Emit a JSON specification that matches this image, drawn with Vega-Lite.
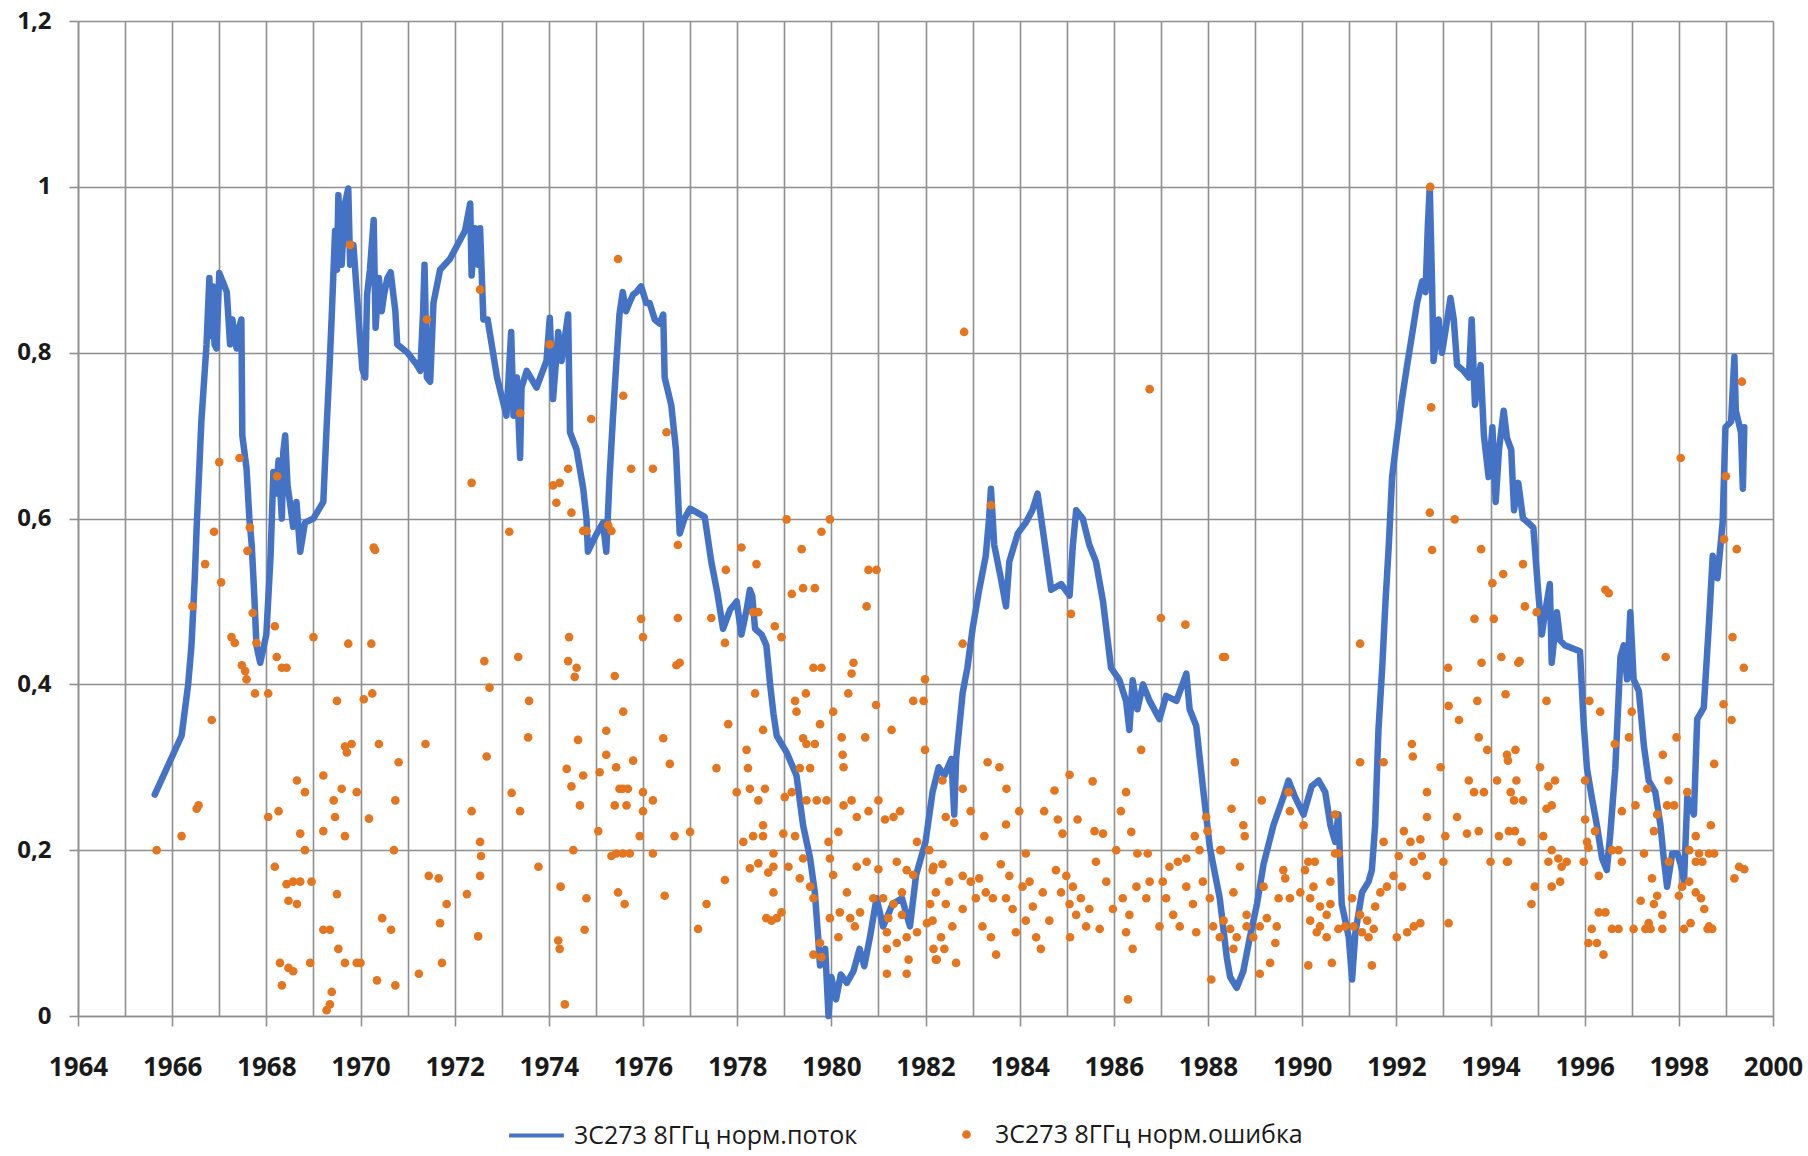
{
"$schema": "https://vega.github.io/schema/vega-lite/v6.json",
"width": 1695, "height": 995,
"autosize": {"type": "none"},
"padding": {"left": 78, "top": 21, "right": 35, "bottom": 140},
"background": "white",
"config": {"view": {"stroke": null}},
"datasets": {
"flux": [
{"t":1965.63,"v":0.267},{"t":1966.2,"v":0.338},{"t":1966.34,"v":0.4},{"t":1966.41,"v":0.447},{"t":1966.48,"v":0.528},{"t":1966.52,"v":0.589},{"t":1966.62,"v":0.717},{"t":1966.73,"v":0.81},{"t":1966.79,"v":0.89},{"t":1966.83,"v":0.82},{"t":1966.86,"v":0.88},{"t":1966.9,"v":0.81},{"t":1966.94,"v":0.805},{"t":1967.0,"v":0.896},{"t":1967.08,"v":0.885},{"t":1967.16,"v":0.873},{"t":1967.23,"v":0.81},{"t":1967.28,"v":0.84},{"t":1967.32,"v":0.82},{"t":1967.37,"v":0.805},{"t":1967.42,"v":0.83},{"t":1967.47,"v":0.84},{"t":1967.49,"v":0.7},{"t":1967.58,"v":0.66},{"t":1967.64,"v":0.6},{"t":1967.69,"v":0.568},{"t":1967.75,"v":0.5},{"t":1967.79,"v":0.447},{"t":1967.87,"v":0.426},{"t":1968.0,"v":0.46},{"t":1968.09,"v":0.555},{"t":1968.15,"v":0.656},{"t":1968.2,"v":0.63},{"t":1968.26,"v":0.67},{"t":1968.33,"v":0.6},{"t":1968.36,"v":0.68},{"t":1968.4,"v":0.7},{"t":1968.45,"v":0.64},{"t":1968.5,"v":0.62},{"t":1968.57,"v":0.59},{"t":1968.64,"v":0.62},{"t":1968.72,"v":0.56},{"t":1968.82,"v":0.595},{"t":1969.0,"v":0.6},{"t":1969.21,"v":0.62},{"t":1969.28,"v":0.71},{"t":1969.34,"v":0.78},{"t":1969.39,"v":0.846},{"t":1969.46,"v":0.947},{"t":1969.5,"v":0.9},{"t":1969.53,"v":0.99},{"t":1969.6,"v":0.906},{"t":1969.67,"v":0.98},{"t":1969.74,"v":0.998},{"t":1969.78,"v":0.906},{"t":1969.85,"v":0.93},{"t":1969.92,"v":0.873},{"t":1970.0,"v":0.81},{"t":1970.04,"v":0.78},{"t":1970.1,"v":0.77},{"t":1970.14,"v":0.87},{"t":1970.2,"v":0.9},{"t":1970.28,"v":0.96},{"t":1970.32,"v":0.83},{"t":1970.39,"v":0.89},{"t":1970.45,"v":0.85},{"t":1970.5,"v":0.87},{"t":1970.57,"v":0.89},{"t":1970.64,"v":0.897},{"t":1970.74,"v":0.85},{"t":1970.78,"v":0.81},{"t":1971.0,"v":0.8},{"t":1971.2,"v":0.785},{"t":1971.27,"v":0.778},{"t":1971.33,"v":0.85},{"t":1971.36,"v":0.906},{"t":1971.41,"v":0.77},{"t":1971.48,"v":0.765},{"t":1971.55,"v":0.86},{"t":1971.69,"v":0.9},{"t":1971.9,"v":0.913},{"t":1972.22,"v":0.947},{"t":1972.33,"v":0.98},{"t":1972.36,"v":0.893},{"t":1972.43,"v":0.95},{"t":1972.5,"v":0.906},{"t":1972.54,"v":0.95},{"t":1972.61,"v":0.84},{"t":1972.7,"v":0.84},{"t":1972.9,"v":0.77},{"t":1973.1,"v":0.724},{"t":1973.2,"v":0.825},{"t":1973.25,"v":0.724},{"t":1973.32,"v":0.77},{"t":1973.39,"v":0.673},{"t":1973.42,"v":0.758},{"t":1973.53,"v":0.778},{"t":1973.74,"v":0.758},{"t":1973.95,"v":0.79},{"t":1974.02,"v":0.842},{"t":1974.09,"v":0.744},{"t":1974.2,"v":0.825},{"t":1974.27,"v":0.79},{"t":1974.41,"v":0.846},{"t":1974.45,"v":0.704},{"t":1974.59,"v":0.683},{"t":1974.73,"v":0.636},{"t":1974.8,"v":0.6},{"t":1974.83,"v":0.56},{"t":1975.0,"v":0.58},{"t":1975.15,"v":0.595},{"t":1975.22,"v":0.56},{"t":1975.29,"v":0.65},{"t":1975.36,"v":0.72},{"t":1975.43,"v":0.785},{"t":1975.5,"v":0.846},{"t":1975.57,"v":0.873},{"t":1975.64,"v":0.85},{"t":1975.71,"v":0.86},{"t":1975.79,"v":0.87},{"t":1975.86,"v":0.873},{"t":1975.96,"v":0.88},{"t":1976.07,"v":0.86},{"t":1976.14,"v":0.86},{"t":1976.25,"v":0.84},{"t":1976.35,"v":0.835},{"t":1976.43,"v":0.846},{"t":1976.46,"v":0.77},{"t":1976.6,"v":0.737},{"t":1976.7,"v":0.683},{"t":1976.78,"v":0.582},{"t":1976.88,"v":0.6},{"t":1977.0,"v":0.612},{"t":1977.31,"v":0.602},{"t":1977.45,"v":0.548},{"t":1977.58,"v":0.51},{"t":1977.7,"v":0.467},{"t":1977.85,"v":0.49},{"t":1977.99,"v":0.5},{"t":1978.09,"v":0.46},{"t":1978.2,"v":0.49},{"t":1978.27,"v":0.514},{"t":1978.32,"v":0.507},{"t":1978.38,"v":0.467},{"t":1978.52,"v":0.46},{"t":1978.62,"v":0.447},{"t":1978.7,"v":0.4},{"t":1978.77,"v":0.365},{"t":1978.84,"v":0.338},{"t":1979.05,"v":0.318},{"t":1979.26,"v":0.29},{"t":1979.4,"v":0.23},{"t":1979.55,"v":0.19},{"t":1979.65,"v":0.149},{"t":1979.72,"v":0.095},{"t":1979.76,"v":0.061},{"t":1979.87,"v":0.081},{"t":1979.94,"v":0.0},{"t":1980.0,"v":0.047},{"t":1980.1,"v":0.02},{"t":1980.2,"v":0.05},{"t":1980.33,"v":0.04},{"t":1980.47,"v":0.054},{"t":1980.6,"v":0.081},{"t":1980.7,"v":0.06},{"t":1980.82,"v":0.095},{"t":1980.96,"v":0.142},{"t":1981.1,"v":0.108},{"t":1981.3,"v":0.135},{"t":1981.5,"v":0.142},{"t":1981.67,"v":0.108},{"t":1981.8,"v":0.17},{"t":1982.0,"v":0.21},{"t":1982.15,"v":0.27},{"t":1982.28,"v":0.3},{"t":1982.4,"v":0.29},{"t":1982.55,"v":0.31},{"t":1982.61,"v":0.243},{"t":1982.65,"v":0.31},{"t":1982.72,"v":0.35},{"t":1982.79,"v":0.39},{"t":1982.89,"v":0.42},{"t":1983.0,"v":0.467},{"t":1983.14,"v":0.514},{"t":1983.28,"v":0.555},{"t":1983.35,"v":0.6},{"t":1983.39,"v":0.636},{"t":1983.46,"v":0.568},{"t":1983.6,"v":0.528},{"t":1983.71,"v":0.494},{"t":1983.78,"v":0.548},{"t":1983.96,"v":0.582},{"t":1984.13,"v":0.595},{"t":1984.27,"v":0.61},{"t":1984.38,"v":0.63},{"t":1984.52,"v":0.575},{"t":1984.67,"v":0.514},{"t":1984.88,"v":0.521},{"t":1985.06,"v":0.507},{"t":1985.13,"v":0.568},{"t":1985.2,"v":0.61},{"t":1985.34,"v":0.6},{"t":1985.48,"v":0.568},{"t":1985.62,"v":0.548},{"t":1985.77,"v":0.5},{"t":1985.94,"v":0.42},{"t":1986.12,"v":0.405},{"t":1986.26,"v":0.38},{"t":1986.33,"v":0.345},{"t":1986.4,"v":0.405},{"t":1986.5,"v":0.37},{"t":1986.62,"v":0.4},{"t":1986.76,"v":0.38},{"t":1986.97,"v":0.358},{"t":1987.11,"v":0.386},{"t":1987.33,"v":0.38},{"t":1987.54,"v":0.413},{"t":1987.61,"v":0.37},{"t":1987.75,"v":0.35},{"t":1987.89,"v":0.277},{"t":1988.04,"v":0.203},{"t":1988.25,"v":0.142},{"t":1988.4,"v":0.07},{"t":1988.47,"v":0.047},{"t":1988.61,"v":0.034},{"t":1988.75,"v":0.054},{"t":1988.89,"v":0.095},{"t":1989.04,"v":0.135},{"t":1989.18,"v":0.183},{"t":1989.39,"v":0.23},{"t":1989.6,"v":0.264},{"t":1989.71,"v":0.284},{"t":1989.85,"v":0.264},{"t":1990.03,"v":0.243},{"t":1990.2,"v":0.277},{"t":1990.35,"v":0.284},{"t":1990.49,"v":0.27},{"t":1990.6,"v":0.23},{"t":1990.7,"v":0.21},{"t":1990.77,"v":0.243},{"t":1990.84,"v":0.135},{"t":1990.99,"v":0.095},{"t":1991.06,"v":0.044},{"t":1991.13,"v":0.1},{"t":1991.27,"v":0.149},{"t":1991.41,"v":0.162},{"t":1991.48,"v":0.176},{"t":1991.55,"v":0.23},{"t":1991.62,"v":0.345},{"t":1991.7,"v":0.42},{"t":1991.77,"v":0.5},{"t":1991.84,"v":0.568},{"t":1991.91,"v":0.65},{"t":1992.01,"v":0.697},{"t":1992.12,"v":0.744},{"t":1992.23,"v":0.785},{"t":1992.33,"v":0.82},{"t":1992.44,"v":0.86},{"t":1992.55,"v":0.886},{"t":1992.62,"v":0.873},{"t":1992.67,"v":0.954},{"t":1992.71,"v":1.0},{"t":1992.76,"v":0.88},{"t":1992.79,"v":0.79},{"t":1992.9,"v":0.84},{"t":1992.97,"v":0.8},{"t":1993.04,"v":0.825},{"t":1993.15,"v":0.866},{"t":1993.22,"v":0.84},{"t":1993.29,"v":0.785},{"t":1993.43,"v":0.778},{"t":1993.54,"v":0.77},{"t":1993.6,"v":0.84},{"t":1993.67,"v":0.737},{"t":1993.79,"v":0.785},{"t":1993.86,"v":0.7},{"t":1993.96,"v":0.65},{"t":1994.04,"v":0.71},{"t":1994.11,"v":0.62},{"t":1994.18,"v":0.683},{"t":1994.28,"v":0.73},{"t":1994.35,"v":0.697},{"t":1994.44,"v":0.683},{"t":1994.5,"v":0.61},{"t":1994.59,"v":0.643},{"t":1994.69,"v":0.6},{"t":1994.8,"v":0.595},{"t":1994.91,"v":0.589},{"t":1995.01,"v":0.514},{"t":1995.09,"v":0.46},{"t":1995.16,"v":0.487},{"t":1995.26,"v":0.521},{"t":1995.3,"v":0.426},{"t":1995.41,"v":0.487},{"t":1995.48,"v":0.453},{"t":1995.58,"v":0.447},{"t":1995.9,"v":0.44},{"t":1995.98,"v":0.352},{"t":1996.05,"v":0.298},{"t":1996.15,"v":0.264},{"t":1996.26,"v":0.23},{"t":1996.37,"v":0.19},{"t":1996.47,"v":0.176},{"t":1996.54,"v":0.217},{"t":1996.65,"v":0.298},{"t":1996.76,"v":0.433},{"t":1996.83,"v":0.447},{"t":1996.9,"v":0.406},{"t":1996.97,"v":0.487},{"t":1997.04,"v":0.406},{"t":1997.15,"v":0.392},{"t":1997.26,"v":0.325},{"t":1997.36,"v":0.284},{"t":1997.5,"v":0.27},{"t":1997.61,"v":0.23},{"t":1997.68,"v":0.19},{"t":1997.75,"v":0.156},{"t":1997.86,"v":0.196},{"t":1997.97,"v":0.196},{"t":1998.04,"v":0.183},{"t":1998.11,"v":0.162},{"t":1998.18,"v":0.264},{"t":1998.32,"v":0.243},{"t":1998.39,"v":0.358},{"t":1998.53,"v":0.372},{"t":1998.64,"v":0.474},{"t":1998.72,"v":0.555},{"t":1998.82,"v":0.528},{"t":1998.93,"v":0.595},{"t":1998.99,"v":0.71},{"t":1999.11,"v":0.717},{"t":1999.18,"v":0.795},{"t":1999.21,"v":0.73},{"t":1999.32,"v":0.704},{"t":1999.36,"v":0.636},{"t":1999.39,"v":0.71}
],
"err": [
{"t":1965.67,"e":0.2},{"t":1966.2,"e":0.217},{"t":1966.52,"e":0.25},{"t":1966.56,"e":0.254},{"t":1966.43,"e":0.494},{"t":1966.7,"e":0.545},{"t":1966.89,"e":0.584},{"t":1967.04,"e":0.523},{"t":1967.0,"e":0.668},{"t":1967.43,"e":0.673},{"t":1966.84,"e":0.357},{"t":1967.26,"e":0.457},{"t":1967.33,"e":0.45},{"t":1967.48,"e":0.423},{"t":1967.55,"e":0.416},{"t":1967.58,"e":0.406},{"t":1967.65,"e":0.589},{"t":1967.6,"e":0.561},{"t":1967.71,"e":0.486},{"t":1967.79,"e":0.45},{"t":1967.76,"e":0.389},{"t":1968.04,"e":0.389},{"t":1968.18,"e":0.47},{"t":1968.23,"e":0.651},{"t":1968.22,"e":0.433},{"t":1968.33,"e":0.42},{"t":1968.43,"e":0.42},{"t":1969.0,"e":0.457},{"t":1969.74,"e":0.449},{"t":1969.78,"e":0.93},{"t":1969.5,"e":0.38},{"t":1969.67,"e":0.325},{"t":1969.71,"e":0.318},{"t":1969.81,"e":0.328},{"t":1968.04,"e":0.24},{"t":1968.26,"e":0.247},{"t":1968.65,"e":0.284},{"t":1968.82,"e":0.27},{"t":1968.72,"e":0.22},{"t":1968.82,"e":0.2},{"t":1969.21,"e":0.29},{"t":1969.43,"e":0.26},{"t":1969.6,"e":0.274},{"t":1969.46,"e":0.24},{"t":1969.21,"e":0.223},{"t":1969.67,"e":0.217},{"t":1969.92,"e":0.27},{"t":1968.18,"e":0.18},{"t":1968.43,"e":0.159},{"t":1968.57,"e":0.162},{"t":1968.72,"e":0.162},{"t":1968.96,"e":0.162},{"t":1968.47,"e":0.139},{"t":1968.65,"e":0.135},{"t":1969.5,"e":0.147},{"t":1969.21,"e":0.104},{"t":1969.35,"e":0.104},{"t":1969.53,"e":0.081},{"t":1969.67,"e":0.064},{"t":1969.92,"e":0.064},{"t":1968.93,"e":0.064},{"t":1968.29,"e":0.064},{"t":1968.47,"e":0.058},{"t":1968.57,"e":0.054},{"t":1968.33,"e":0.037},{"t":1969.39,"e":0.029},{"t":1969.28,"e":0.007},{"t":1969.35,"e":0.014},
{"t":1971.41,"e":0.84},{"t":1972.54,"e":0.876},{"t":1974.02,"e":0.81},{"t":1973.39,"e":0.727},{"t":1975.47,"e":0.913},{"t":1975.58,"e":0.748},{"t":1974.9,"e":0.72},{"t":1972.36,"e":0.643},{"t":1974.09,"e":0.64},{"t":1974.23,"e":0.643},{"t":1974.16,"e":0.619},{"t":1974.41,"e":0.66},{"t":1974.48,"e":0.607},{"t":1974.73,"e":0.585},{"t":1974.8,"e":0.585},{"t":1975.26,"e":0.592},{"t":1975.33,"e":0.585},{"t":1975.75,"e":0.66},{"t":1973.16,"e":0.584},{"t":1970.28,"e":0.565},{"t":1970.31,"e":0.562},{"t":1970.23,"e":0.449},{"t":1970.07,"e":0.382},{"t":1970.25,"e":0.389},{"t":1970.39,"e":0.328},{"t":1970.18,"e":0.238},{"t":1970.81,"e":0.306},{"t":1970.74,"e":0.26},{"t":1970.71,"e":0.2},{"t":1971.38,"e":0.328},{"t":1970.46,"e":0.118},{"t":1970.65,"e":0.104},{"t":1970.0,"e":0.064},{"t":1970.35,"e":0.043},{"t":1970.74,"e":0.037},{"t":1971.24,"e":0.051},{"t":1971.45,"e":0.169},{"t":1971.66,"e":0.166},{"t":1971.69,"e":0.112},{"t":1971.83,"e":0.135},{"t":1971.73,"e":0.064},{"t":1972.26,"e":0.147},{"t":1972.36,"e":0.247},{"t":1972.54,"e":0.21},{"t":1972.56,"e":0.193},{"t":1972.54,"e":0.169},{"t":1972.5,"e":0.096},{"t":1972.63,"e":0.428},{"t":1972.74,"e":0.396},{"t":1972.68,"e":0.313},{"t":1973.35,"e":0.433},{"t":1973.58,"e":0.38},{"t":1973.56,"e":0.336},{"t":1973.21,"e":0.269},{"t":1973.39,"e":0.247},{"t":1973.78,"e":0.18},{"t":1974.25,"e":0.156},{"t":1974.2,"e":0.091},{"t":1974.23,"e":0.081},{"t":1974.34,"e":0.014},{"t":1974.43,"e":0.457},{"t":1974.41,"e":0.428},{"t":1974.59,"e":0.42},{"t":1974.55,"e":0.409},{"t":1974.62,"e":0.333},{"t":1974.38,"e":0.298},{"t":1974.48,"e":0.277},{"t":1974.73,"e":0.29},{"t":1974.66,"e":0.254},{"t":1974.52,"e":0.2},{"t":1974.8,"e":0.142},{"t":1974.76,"e":0.104},{"t":1975.05,"e":0.223},{"t":1975.08,"e":0.294},{"t":1975.22,"e":0.315},{"t":1975.22,"e":0.344},{"t":1975.4,"e":0.41},{"t":1975.58,"e":0.367},{"t":1975.43,"e":0.3},{"t":1975.5,"e":0.274},{"t":1975.57,"e":0.274},{"t":1975.68,"e":0.274},{"t":1975.4,"e":0.254},{"t":1975.65,"e":0.254},{"t":1975.79,"e":0.308},{"t":1975.96,"e":0.479},{"t":1976.0,"e":0.457},{"t":1976.0,"e":0.27},{"t":1976.0,"e":0.247},{"t":1975.93,"e":0.217},{"t":1975.33,"e":0.193},{"t":1975.43,"e":0.196},{"t":1975.57,"e":0.196},{"t":1975.72,"e":0.196},{"t":1975.47,"e":0.149},{"t":1975.61,"e":0.135},
{"t":1976.5,"e":0.704},{"t":1976.21,"e":0.66},{"t":1976.74,"e":0.568},{"t":1976.74,"e":0.48},{"t":1976.71,"e":0.423},{"t":1976.78,"e":0.426},{"t":1978.09,"e":0.565},{"t":1978.41,"e":0.545},{"t":1977.76,"e":0.538},{"t":1977.45,"e":0.48},{"t":1977.74,"e":0.45},{"t":1978.34,"e":0.487},{"t":1978.45,"e":0.487},{"t":1978.8,"e":0.47},{"t":1978.94,"e":0.457},{"t":1979.05,"e":0.599},{"t":1979.37,"e":0.563},{"t":1979.16,"e":0.509},{"t":1979.4,"e":0.516},{"t":1979.65,"e":0.516},{"t":1979.79,"e":0.584},{"t":1979.97,"e":0.599},{"t":1979.62,"e":0.42},{"t":1979.79,"e":0.42},{"t":1980.47,"e":0.426},{"t":1980.43,"e":0.413},{"t":1980.36,"e":0.389},{"t":1980.79,"e":0.538},{"t":1980.96,"e":0.538},{"t":1980.75,"e":0.494},{"t":1978.38,"e":0.389},{"t":1979.23,"e":0.38},{"t":1979.26,"e":0.367},{"t":1979.46,"e":0.389},{"t":1979.76,"e":0.352},{"t":1980.04,"e":0.367},{"t":1980.22,"e":0.336},{"t":1980.24,"e":0.315},{"t":1980.26,"e":0.3},{"t":1980.72,"e":0.336},{"t":1980.95,"e":0.375},{"t":1981.28,"e":0.345},{"t":1981.74,"e":0.38},{"t":1981.96,"e":0.38},{"t":1981.99,"e":0.406},{"t":1981.99,"e":0.321},{"t":1978.55,"e":0.345},{"t":1978.2,"e":0.321},{"t":1978.23,"e":0.299},{"t":1979.4,"e":0.335},{"t":1979.47,"e":0.328},{"t":1979.65,"e":0.328},{"t":1979.33,"e":0.299},{"t":1979.55,"e":0.299},{"t":1977.81,"e":0.352},{"t":1976.43,"e":0.335},{"t":1976.57,"e":0.304},{"t":1977.56,"e":0.299},{"t":1976.21,"e":0.26},{"t":1976.21,"e":0.196},{"t":1976.67,"e":0.217},{"t":1977.0,"e":0.222},{"t":1976.46,"e":0.145},{"t":1977.35,"e":0.135},{"t":1977.17,"e":0.105},{"t":1977.74,"e":0.164},{"t":1977.99,"e":0.27},{"t":1978.27,"e":0.274},{"t":1978.45,"e":0.26},{"t":1978.59,"e":0.274},{"t":1978.55,"e":0.23},{"t":1979.01,"e":0.264},{"t":1979.16,"e":0.27},{"t":1979.47,"e":0.26},{"t":1979.69,"e":0.26},{"t":1979.9,"e":0.26},{"t":1980.26,"e":0.254},{"t":1980.43,"e":0.26},{"t":1980.54,"e":0.24},{"t":1980.79,"e":0.247},{"t":1981.0,"e":0.26},{"t":1981.14,"e":0.237},{"t":1981.32,"e":0.24},{"t":1981.46,"e":0.247},{"t":1978.13,"e":0.21},{"t":1978.34,"e":0.217},{"t":1978.55,"e":0.217},{"t":1978.98,"e":0.22},{"t":1979.23,"e":0.217},{"t":1979.4,"e":0.19},{"t":1978.77,"e":0.196},{"t":1978.27,"e":0.178},{"t":1978.45,"e":0.184},{"t":1978.66,"e":0.173},{"t":1978.77,"e":0.18},{"t":1979.09,"e":0.18},{"t":1979.33,"e":0.166},{"t":1979.55,"e":0.156},{"t":1979.62,"e":0.142},{"t":1979.94,"e":0.21},{"t":1979.97,"e":0.19},{"t":1980.15,"e":0.222},{"t":1980.04,"e":0.17},{"t":1980.33,"e":0.149},{"t":1980.54,"e":0.18},{"t":1980.75,"e":0.186},{"t":1981.0,"e":0.177},{"t":1981.39,"e":0.186},{"t":1981.6,"e":0.176},{"t":1981.74,"e":0.17},{"t":1981.82,"e":0.21},{"t":1982.17,"e":0.18},{"t":1978.77,"e":0.149},{"t":1978.62,"e":0.118},{"t":1978.73,"e":0.115},{"t":1978.94,"e":0.125},{"t":1978.84,"e":0.118},{"t":1979.97,"e":0.118},{"t":1980.18,"e":0.125},{"t":1980.4,"e":0.118},{"t":1980.61,"e":0.125},{"t":1980.5,"e":0.108},{"t":1980.15,"e":0.095},{"t":1979.76,"e":0.088},{"t":1979.62,"e":0.074},{"t":1979.79,"e":0.071},{"t":1980.89,"e":0.142},{"t":1981.1,"e":0.142},{"t":1981.32,"e":0.135},{"t":1981.5,"e":0.149},{"t":1981.21,"e":0.118},{"t":1981.5,"e":0.122},{"t":1981.18,"e":0.101},{"t":1981.39,"e":0.088},{"t":1981.18,"e":0.081},{"t":1981.6,"e":0.095},{"t":1981.64,"e":0.068},{"t":1981.18,"e":0.051},{"t":1981.6,"e":0.051},{"t":1981.82,"e":0.101},{"t":1982.03,"e":0.112},{"t":1982.1,"e":0.135},{"t":1982.17,"e":0.081},{"t":1982.24,"e":0.068},
{"t":1982.82,"e":0.825},{"t":1986.76,"e":0.756},{"t":1983.39,"e":0.616},{"t":1985.09,"e":0.485},{"t":1987.0,"e":0.48},{"t":1987.52,"e":0.472},{"t":1988.32,"e":0.433},{"t":1982.79,"e":0.449},{"t":1986.58,"e":0.321},{"t":1982.36,"e":0.284},{"t":1982.43,"e":0.24},{"t":1982.61,"e":0.233},{"t":1982.79,"e":0.274},{"t":1982.96,"e":0.247},{"t":1982.08,"e":0.2},{"t":1983.32,"e":0.306},{"t":1983.57,"e":0.3},{"t":1983.72,"e":0.274},{"t":1983.71,"e":0.231},{"t":1983.25,"e":0.217},{"t":1983.99,"e":0.247},{"t":1984.13,"e":0.196},{"t":1984.52,"e":0.247},{"t":1984.74,"e":0.272},{"t":1984.81,"e":0.237},{"t":1984.91,"e":0.22},{"t":1985.06,"e":0.291},{"t":1985.23,"e":0.237},{"t":1985.55,"e":0.283},{"t":1985.59,"e":0.223},{"t":1985.77,"e":0.22},{"t":1985.62,"e":0.186},{"t":1986.05,"e":0.2},{"t":1986.15,"e":0.247},{"t":1986.26,"e":0.27},{"t":1986.37,"e":0.222},{"t":1986.5,"e":0.196},{"t":1986.72,"e":0.196},{"t":1987.18,"e":0.18},{"t":1987.36,"e":0.186},{"t":1987.54,"e":0.19},{"t":1987.72,"e":0.217},{"t":1987.82,"e":0.2},{"t":1987.96,"e":0.24},{"t":1987.99,"e":0.223},{"t":1988.28,"e":0.2},{"t":1988.07,"e":0.044},{"t":1986.3,"e":0.02},
{"t":1982.15,"e":0.176},{"t":1982.36,"e":0.183},{"t":1982.5,"e":0.162},{"t":1982.22,"e":0.149},{"t":1982.43,"e":0.135},{"t":1982.15,"e":0.115},{"t":1982.33,"e":0.095},{"t":1982.57,"e":0.108},{"t":1982.4,"e":0.081},{"t":1982.65,"e":0.064},{"t":1982.22,"e":0.068},{"t":1982.79,"e":0.129},{"t":1982.96,"e":0.162},{"t":1983.14,"e":0.166},{"t":1983.07,"e":0.142},{"t":1983.28,"e":0.149},{"t":1983.43,"e":0.142},{"t":1983.21,"e":0.108},{"t":1983.39,"e":0.095},{"t":1983.5,"e":0.074},{"t":1983.6,"e":0.183},{"t":1983.71,"e":0.142},{"t":1983.85,"e":0.129},{"t":1983.92,"e":0.101},{"t":1984.06,"e":0.156},{"t":1984.21,"e":0.162},{"t":1984.28,"e":0.132},{"t":1984.13,"e":0.115},{"t":1984.35,"e":0.095},{"t":1984.45,"e":0.081},{"t":1984.49,"e":0.149},{"t":1984.63,"e":0.115},{"t":1984.77,"e":0.176},{"t":1984.88,"e":0.149},{"t":1984.99,"e":0.169},{"t":1985.06,"e":0.135},{"t":1985.13,"e":0.156},{"t":1985.2,"e":0.122},{"t":1985.07,"e":0.095},{"t":1985.3,"e":0.142},{"t":1985.41,"e":0.108},{"t":1985.48,"e":0.129},{"t":1985.7,"e":0.105},{"t":1985.84,"e":0.162},{"t":1986.19,"e":0.142},{"t":1986.33,"e":0.122},{"t":1986.26,"e":0.101},{"t":1986.4,"e":0.081},{"t":1986.48,"e":0.156},{"t":1986.69,"e":0.142},{"t":1986.76,"e":0.162},{"t":1987.04,"e":0.162},{"t":1987.11,"e":0.142},{"t":1987.26,"e":0.122},{"t":1987.4,"e":0.108},{"t":1987.54,"e":0.156},{"t":1987.68,"e":0.135},{"t":1987.89,"e":0.162},{"t":1988.04,"e":0.142},{"t":1988.11,"e":0.108},{"t":1988.25,"e":0.095},{"t":1987.75,"e":0.101},{"t":1986.97,"e":0.108},{"t":1985.98,"e":0.129},{"t":1983.78,"e":0.169},{"t":1982.79,"e":0.169},
{"t":1992.72,"e":1.0},{"t":1992.74,"e":0.734},{"t":1992.71,"e":0.607},{"t":1992.76,"e":0.562},{"t":1993.24,"e":0.599},{"t":1993.8,"e":0.563},{"t":1994.04,"e":0.522},{"t":1994.27,"e":0.533},{"t":1993.66,"e":0.479},{"t":1994.07,"e":0.479},{"t":1993.81,"e":0.426},{"t":1994.23,"e":0.433},{"t":1994.59,"e":0.426},{"t":1993.1,"e":0.42},{"t":1991.23,"e":0.449},{"t":1994.32,"e":0.388},{"t":1993.72,"e":0.38},{"t":1993.11,"e":0.374},{"t":1993.33,"e":0.357},{"t":1993.75,"e":0.336},{"t":1993.93,"e":0.321},{"t":1994.35,"e":0.315},{"t":1994.53,"e":0.321},{"t":1992.94,"e":0.3},{"t":1993.54,"e":0.284},{"t":1993.86,"e":0.27},{"t":1994.14,"e":0.284},{"t":1994.43,"e":0.27},{"t":1993.65,"e":0.27},{"t":1994.5,"e":0.26},{"t":1992.33,"e":0.328},{"t":1992.35,"e":0.313},{"t":1992.65,"e":0.27},{"t":1991.23,"e":0.306},{"t":1991.73,"e":0.306},{"t":1988.57,"e":0.306},{"t":1988.36,"e":0.433},{"t":1992.65,"e":0.24},{"t":1993.29,"e":0.24},{"t":1993.5,"e":0.22},{"t":1993.75,"e":0.223},{"t":1994.18,"e":0.217},{"t":1994.39,"e":0.223},{"t":1993.04,"e":0.217},{"t":1994.0,"e":0.186},{"t":1994.35,"e":0.186},{"t":1993.0,"e":0.186},{"t":1992.51,"e":0.213},{"t":1992.54,"e":0.193},{"t":1992.3,"e":0.21},{"t":1992.16,"e":0.223},{"t":1992.37,"e":0.186},{"t":1992.65,"e":0.169},{"t":1992.05,"e":0.193},{"t":1991.94,"e":0.169},{"t":1991.8,"e":0.156},{"t":1991.73,"e":0.21},{"t":1991.66,"e":0.149},{"t":1991.55,"e":0.132},{"t":1992.12,"e":0.156},{"t":1992.37,"e":0.108},{"t":1992.51,"e":0.112},{"t":1992.23,"e":0.101},{"t":1992.01,"e":0.095},{"t":1993.11,"e":0.112},{"t":1991.48,"e":0.061},{"t":1991.38,"e":0.115},{"t":1991.23,"e":0.122},{"t":1991.09,"e":0.108},{"t":1991.27,"e":0.101},{"t":1991.41,"e":0.095},{"t":1991.52,"e":0.105},{"t":1991.06,"e":0.142},{"t":1990.91,"e":0.108},{"t":1990.77,"e":0.105},{"t":1990.6,"e":0.135},{"t":1990.7,"e":0.196},{"t":1990.77,"e":0.196},{"t":1990.7,"e":0.243},{"t":1990.6,"e":0.162},{"t":1990.52,"e":0.122},{"t":1990.38,"e":0.132},{"t":1990.17,"e":0.142},{"t":1990.06,"e":0.176},{"t":1990.13,"e":0.186},{"t":1990.27,"e":0.186},{"t":1990.24,"e":0.156},{"t":1990.03,"e":0.23},{"t":1989.96,"e":0.149},{"t":1990.17,"e":0.115},{"t":1990.38,"e":0.108},{"t":1990.52,"e":0.095},{"t":1990.31,"e":0.101},{"t":1990.63,"e":0.064},{"t":1990.13,"e":0.061},{"t":1989.74,"e":0.247},{"t":1989.71,"e":0.27},{"t":1989.6,"e":0.176},{"t":1989.74,"e":0.142},{"t":1989.64,"e":0.166},{"t":1989.5,"e":0.142},{"t":1989.46,"e":0.108},{"t":1989.43,"e":0.088},{"t":1989.32,"e":0.064},{"t":1989.14,"e":0.26},{"t":1989.18,"e":0.156},{"t":1989.25,"e":0.118},{"t":1989.1,"e":0.051},{"t":1988.96,"e":0.095},{"t":1989.1,"e":0.108},{"t":1988.82,"e":0.108},{"t":1988.68,"e":0.18},{"t":1988.75,"e":0.23},{"t":1988.78,"e":0.217},{"t":1988.54,"e":0.149},{"t":1988.5,"e":0.25},{"t":1988.26,"e":0.2},{"t":1988.33,"e":0.115},{"t":1988.47,"e":0.105},{"t":1988.61,"e":0.095},{"t":1988.54,"e":0.081},{"t":1988.82,"e":0.122},
{"t":1998.04,"e":0.673},{"t":1999.34,"e":0.765},{"t":1999.0,"e":0.651},{"t":1998.96,"e":0.575},{"t":1999.23,"e":0.563},{"t":1999.14,"e":0.457},{"t":1999.38,"e":0.42},{"t":1998.95,"e":0.376},{"t":1999.12,"e":0.357},{"t":1997.72,"e":0.433},{"t":1994.69,"e":0.545},{"t":1994.73,"e":0.494},{"t":1994.98,"e":0.487},{"t":1994.62,"e":0.428},{"t":1995.19,"e":0.38},{"t":1996.44,"e":0.514},{"t":1996.51,"e":0.51},{"t":1996.1,"e":0.38},{"t":1996.33,"e":0.367},{"t":1997.0,"e":0.367},{"t":1996.94,"e":0.336},{"t":1996.64,"e":0.328},{"t":1997.95,"e":0.336},{"t":1997.66,"e":0.315},{"t":1994.37,"e":0.308},{"t":1995.05,"e":0.3},{"t":1994.55,"e":0.284},{"t":1994.69,"e":0.26},{"t":1995.23,"e":0.277},{"t":1995.37,"e":0.284},{"t":1995.19,"e":0.25},{"t":1995.3,"e":0.254},{"t":1995.12,"e":0.217},{"t":1994.52,"e":0.223},{"t":1994.66,"e":0.21},{"t":1994.37,"e":0.186},{"t":1995.3,"e":0.2},{"t":1995.44,"e":0.19},{"t":1995.62,"e":0.186},{"t":1995.23,"e":0.186},{"t":1995.51,"e":0.18},{"t":1995.48,"e":0.162},{"t":1995.3,"e":0.156},{"t":1994.94,"e":0.156},{"t":1994.87,"e":0.135},{"t":1996.01,"e":0.284},{"t":1996.01,"e":0.237},{"t":1995.98,"e":0.186},{"t":1996.05,"e":0.21},{"t":1996.22,"e":0.223},{"t":1996.08,"e":0.203},{"t":1996.3,"e":0.169},{"t":1996.72,"e":0.2},{"t":1996.79,"e":0.186},{"t":1996.58,"e":0.2},{"t":1996.79,"e":0.247},{"t":1997.08,"e":0.254},{"t":1996.3,"e":0.125},{"t":1996.44,"e":0.125},{"t":1996.58,"e":0.105},{"t":1996.72,"e":0.105},{"t":1996.15,"e":0.105},{"t":1996.08,"e":0.088},{"t":1996.26,"e":0.088},{"t":1996.4,"e":0.074},{"t":1997.04,"e":0.105},{"t":1997.19,"e":0.139},{"t":1997.36,"e":0.112},{"t":1997.29,"e":0.105},{"t":1997.26,"e":0.196},{"t":1997.33,"e":0.274},{"t":1997.47,"e":0.223},{"t":1997.54,"e":0.243},{"t":1997.75,"e":0.254},{"t":1997.9,"e":0.254},{"t":1997.78,"e":0.284},{"t":1997.79,"e":0.186},{"t":1997.43,"e":0.166},{"t":1997.54,"e":0.145},{"t":1997.47,"e":0.135},{"t":1997.65,"e":0.122},{"t":1997.65,"e":0.105},{"t":1997.4,"e":0.105},{"t":1998.0,"e":0.145},{"t":1998.11,"e":0.105},{"t":1998.25,"e":0.112},{"t":1998.07,"e":0.156},{"t":1998.22,"e":0.162},{"t":1998.18,"e":0.27},{"t":1998.22,"e":0.2},{"t":1998.36,"e":0.217},{"t":1998.43,"e":0.196},{"t":1998.5,"e":0.186},{"t":1998.64,"e":0.196},{"t":1998.75,"e":0.196},{"t":1998.36,"e":0.186},{"t":1998.36,"e":0.149},{"t":1998.47,"e":0.142},{"t":1998.54,"e":0.129},{"t":1998.64,"e":0.108},{"t":1998.71,"e":0.105},{"t":1998.61,"e":0.105},{"t":1998.68,"e":0.23},{"t":1998.75,"e":0.304},{"t":1999.18,"e":0.166},{"t":1999.28,"e":0.18},{"t":1999.39,"e":0.177}
]
},
"layer": [
{
"data": {"name": "flux"},
"mark": {"type": "line", "strokeWidth": 6.5, "strokeJoin": "round", "strokeCap": "round"},
"encoding": {
"x": {"field": "t", "type": "quantitative",
"scale": {"domain": [1964, 2000], "nice": false, "zero": false},
"axis": {"title": null,
"values": [1964,1965,1966,1967,1968,1969,1970,1971,1972,1973,1974,1975,1976,1977,1978,1979,1980,1981,1982,1983,1984,1985,1986,1987,1988,1989,1990,1991,1992,1993,1994,1995,1996,1997,1998,1999,2000],
"labelExpr": "datum.value % 2 === 0 ? format(datum.value, 'd') : ''",
"labelOverlap": false, "labelFlush": false, "labelBound": false,
"grid": true, "gridColor": "#8f8f8f", "gridWidth": 1.6,
"domainColor": "#8f8f8f", "domainWidth": 1.6,
"tickColor": "#8f8f8f", "tickWidth": 1.6, "tickSize": 10,
"tickOpacity": {"condition": {"test": "datum.value % 2 === 0", "value": 1}, "value": 0},
"labelFont": "Open Sans", "labelFontWeight": "bold", "labelFontSize": 26,
"labelColor": "#1a1a1a", "labelPadding": 28}},
"y": {"field": "v", "type": "quantitative",
"scale": {"domain": [0, 1.2], "nice": false, "zero": false},
"axis": {"title": null,
"values": [0, 0.2, 0.4, 0.6, 0.8, 1, 1.2],
"labelExpr": "replace(format(datum.value, '.1~f'), '.', ',')",
"grid": true, "gridColor": "#8f8f8f", "gridWidth": 1.6,
"domainColor": "#8f8f8f", "domainWidth": 1.6,
"tickColor": "#8f8f8f", "tickWidth": 1.6, "tickSize": 9,
"labelFont": "Open Sans", "labelFontWeight": "bold", "labelFontSize": 24,
"labelColor": "#1a1a1a", "labelPadding": 18}},
"stroke": {"datum": "3C273 8ГГц норм.поток", "type": "nominal",
"scale": {"range": ["#4472c4"]},
"legend": {"title": null, "orient": "none", "legendX": 429, "legendY": 1085,
"symbolType": "stroke", "symbolSize": 3000, "symbolStrokeWidth": 4,
"labelFont": "Open Sans", "labelFontSize": 25, "labelColor": "#1a1a1a", "labelOffset": 8, "labelLimit": 600, "padding": 0}}
}
},
{
"data": {"name": "err"},
"mark": {"type": "circle", "size": 75, "opacity": 1},
"encoding": {
"x": {"field": "t", "type": "quantitative"},
"y": {"field": "e", "type": "quantitative"},
"fill": {"datum": "3C273 8ГГц норм.ошибка", "type": "nominal",
"scale": {"range": ["#e4761f"]},
"legend": {"title": null, "orient": "none", "legendX": 876, "legendY": 1101,
"symbolType": "circle", "symbolSize": 75,
"labelFont": "Open Sans", "labelFontSize": 25, "labelColor": "#1a1a1a", "labelOffset": 16, "labelLimit": 600, "padding": 0}}
}
}
]
}
